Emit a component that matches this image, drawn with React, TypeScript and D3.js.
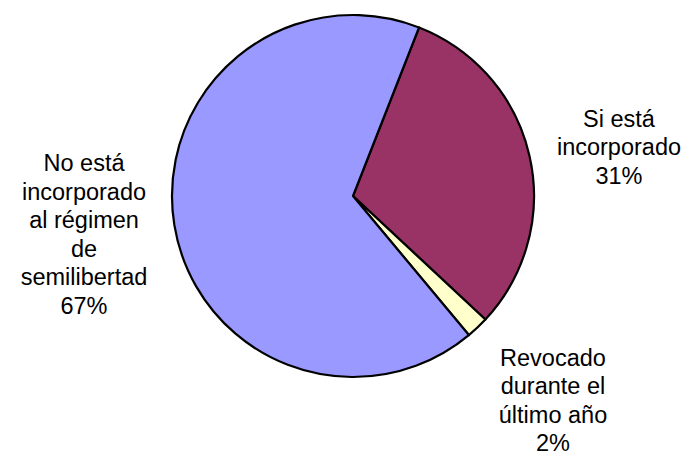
import { useEffect, useRef } from "react";
import * as d3 from "d3";

const categories = [
  "Si está incorporado",
  "Revocado durante el último año",
  "No está incorporado al régimen de semilibertad",
];
const values = [31, 2, 67];
const labelLines = [
  ["Si está", "incorporado", "31%"],
  ["Revocado", "durante el", "último año", "2%"],
  ["No está", "incorporado", "al régimen", "de", "semilibertad", "67%"],
];

const colors = ["#993366", "#FFFFCC", "#9999FF"];
// label block centres, relative to the pie centre
const labelOffsets = [
  { dx: 266, dy: -49 },
  { dx: 200, dy: 204 },
  { dx: -269, dy: 38 },
];

export default function App() {
  const ref = useRef<SVGSVGElement | null>(null);

  useEffect(() => {
    const width = 700;
    const height = 473;
    const cx = 353;
    const cy = 196;
    const radius = 181;
    const fontSize = 23.5;
    const lineHeight = 28.5;

    const svg = d3.select(ref.current);
    svg.selectAll("*").remove();

    const start = (21.4 * Math.PI) / 180;
    const pie = d3
      .pie<number>()
      .sort(null)
      .value((d) => d)
      .startAngle(start)
      .endAngle(start + 2 * Math.PI);

    const arc = d3.arc<d3.PieArcDatum<number>>().innerRadius(0).outerRadius(radius);

    const g = svg.append("g").attr("transform", `translate(${cx},${cy})`);

    g.selectAll("path")
      .data(pie(values))
      .join("path")
      .attr("d", arc)
      .attr("fill", (_, i) => colors[i])
      .attr("stroke", "#000")
      .attr("stroke-width", 2.2)
      .attr("stroke-linejoin", "round");

    categories.forEach((_, i) => {
      const lines = labelLines[i];
      const off = labelOffsets[i];
      const top = off.dy - ((lines.length - 1) * lineHeight) / 2;
      const t = g
        .append("text")
        .attr("text-anchor", "middle")
        .attr("font-family", "Arial, 'Liberation Sans', sans-serif")
        .attr("font-size", fontSize)
        .attr("fill", "#000");
      lines.forEach((line, j) => {
        t.append("tspan")
          .attr("x", off.dx)
          .attr("y", top + j * lineHeight + fontSize * 0.36)
          .text(line);
      });
    });

    svg.attr("width", width).attr("height", height);
  }, []);

  return (
    <svg
      ref={ref}
      width={700}
      height={473}
      style={{ position: "absolute", left: 0, top: 0, background: "#fff" }}
    />
  );
}
